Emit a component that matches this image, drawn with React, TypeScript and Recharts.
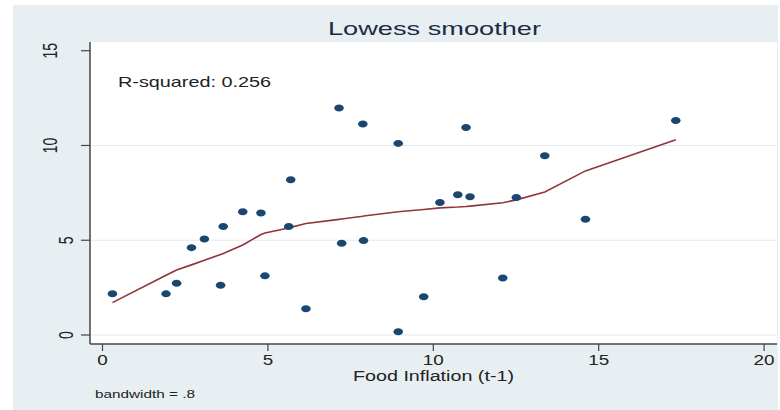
import React from 'react';
import {
  ComposedChart,
  Scatter,
  Line,
  XAxis,
  YAxis,
  CartesianGrid,
} from 'recharts';

// Food inflation (t-1) on x, inflation on y, lowess fitted value at each x
const foodInflation = [0.3, 1.92, 2.24, 2.69, 3.08, 3.57, 3.65, 4.24, 4.79, 4.91, 5.63, 5.69, 6.15, 7.15, 7.23, 7.87, 7.89, 8.94, 8.94, 9.71, 10.2, 10.74, 10.99, 11.11, 12.1, 12.51, 13.37, 14.6, 17.33];
const inflation = [2.18, 2.17, 2.73, 4.61, 5.07, 2.63, 5.72, 6.5, 6.44, 3.12, 5.72, 8.19, 1.39, 11.98, 4.84, 11.13, 4.98, 10.11, 0.17, 2.02, 6.99, 7.4, 10.95, 7.29, 3.01, 7.25, 9.46, 6.11, 11.32];
const lowessFit = [1.71, 3.15, 3.43, 3.7, 3.95, 4.25, 4.3, 4.75, 5.3, 5.38, 5.65, 5.68, 5.88, 6.1, 6.12, 6.27, 6.28, 6.5, 6.5, 6.62, 6.71, 6.75, 6.78, 6.8, 6.98, 7.13, 7.55, 8.66, 10.3];

const xTicks = [0, 5, 10, 15, 20];
const yTicks = [0, 5, 10, 15];
const gridValues = [0, 5, 10];

const FONT = '"Liberation Sans", Arial, sans-serif';

const rows = foodInflation.map((x, i) => ({ x, y: inflation[i], fit: lowessFit[i] }));

const XTick = (props: any) => {
  const { x, y, payload } = props;
  const label = String(payload.value);
  return (
    <text
      x={x}
      y={y + 14}
      textAnchor="middle"
      fontSize={14.5}
      fontFamily={FONT}
      fill="#222"
      textLength={label.length * 10.5}
      lengthAdjust="spacingAndGlyphs"
    >
      {label}
    </text>
  );
};

// stata places rotated labels as if they were horizontal, so short ones sit closer
const YTick = (props: any) => {
  const { x, y, payload } = props;
  const label = String(payload.value);
  const right = x + 10 - label.length * 16;
  return (
    <text
      transform={`translate(${right},${y}) scale(1.45,1) rotate(-90)`}
      textAnchor="middle"
      fontSize={14}
      fontFamily={FONT}
      fill="#222"
    >
      {label}
    </text>
  );
};

const Dot = (props: any) => (
  <ellipse cx={props.cx} cy={props.cy} rx={4.8} ry={3.5} fill="#1a476f" />
);

export default function App() {
  return (
    <div style={{ position: 'absolute', left: 0, top: 0, width: 780, height: 410, background: '#fff' }}>
      <div style={{ position: 'absolute', left: 13, top: 5, width: 765, height: 405, background: '#e8eff2' }} />
      <div style={{ position: 'absolute', left: 0, top: 0 }}>
        <ComposedChart
          width={780}
          height={410}
          data={rows}
          margin={{ top: 42, right: 3, left: 30, bottom: 36 }}
        >
          <CartesianGrid
            vertical={false}
            horizontalValues={gridValues}
            stroke="#e2ebee"
            fill="#ffffff"
            fillOpacity={1}
          />
          <XAxis
            dataKey="x"
            type="number"
            domain={[-0.378, 20.39]}
            ticks={xTicks}
            interval={0}
            allowDataOverflow
            height={30}
            tickSize={7}
            tickMargin={0}
            axisLine={{ stroke: '#444', strokeWidth: 1.3 }}
            tickLine={{ stroke: '#444', strokeWidth: 1.2 }}
            tick={<XTick />}
          />
          <YAxis
            type="number"
            domain={[-0.475, 15.46]}
            ticks={yTicks}
            interval={0}
            allowDataOverflow
            width={60}
            tickSize={9}
            tickMargin={2}
            axisLine={{ stroke: '#444', strokeWidth: 1.5 }}
            tickLine={{ stroke: '#444', strokeWidth: 1.2 }}
            tick={<YTick />}
          />
          <Line
            type="linear"
            dataKey="fit"
            stroke="#90353b"
            strokeWidth={1.6}
            dot={false}
            activeDot={false}
            isAnimationActive={false}
          />
          <Scatter dataKey="y" shape={<Dot />} isAnimationActive={false} />
        </ComposedChart>
      </div>
      <svg
        width={780}
        height={410}
        style={{ position: 'absolute', left: 0, top: 0, pointerEvents: 'none' }}
      >
        <text x={328} y={35} fontSize={19} fontFamily={FONT} fill="#1c2b45" textLength={213} lengthAdjust="spacingAndGlyphs">
          Lowess smoother
        </text>
        <text x={118} y={87} fontSize={15} fontFamily={FONT} fill="#222" textLength={153} lengthAdjust="spacingAndGlyphs">
          R-squared: 0.256
        </text>
        <text x={353} y={381} fontSize={15.5} fontFamily={FONT} fill="#222" textLength={161} lengthAdjust="spacingAndGlyphs">
          Food Inflation (t-1)
        </text>
        <text x={95} y={398} fontSize={11.5} fontFamily={FONT} fill="#222" textLength={100} lengthAdjust="spacingAndGlyphs">
          bandwidth = .8
        </text>
      </svg>
    </div>
  );
}
